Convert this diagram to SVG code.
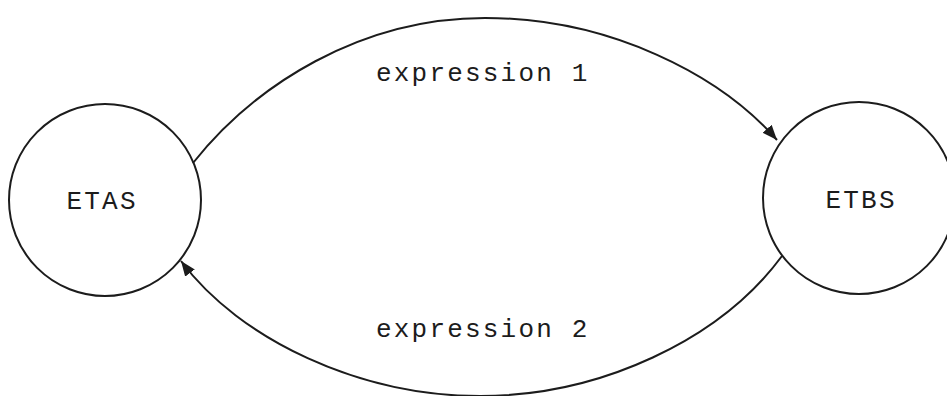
<svg xmlns="http://www.w3.org/2000/svg" width="947" height="396" viewBox="0 0 947 396">
<style>
.node{fill:none;stroke:#1c1c1c;stroke-width:2}
.edge{fill:none;stroke:#1c1c1c;stroke-width:2}
.lbl{font-family:"Liberation Mono","DejaVu Sans Mono",monospace;font-size:26px;letter-spacing:2.2px;fill:#1c1c1c}
</style>
<defs>
<marker id="arr" markerUnits="userSpaceOnUse" markerWidth="16" markerHeight="14" refX="15" refY="6" orient="auto">
<path d="M0,0 L15,6 L0,12 Z" fill="#1c1c1c"/>
</marker>
</defs>
<rect width="947" height="396" fill="#ffffff"/>
<g id="ETAS">
<circle class="node" cx="105" cy="200" r="96"/>
<text class="lbl" x="66.5" y="209">ETAS</text>
</g>
<g id="ETBS">
<circle class="node" cx="859" cy="198" r="96"/>
<text class="lbl" x="825.5" y="208">ETBS</text>
</g>
<g id="connectors">
<path class="edge" d="M193,163 C255,85 360,18 485,18 C610,18 720,75 777,140" marker-end="url(#arr)"/>
<text class="lbl" x="376" y="81">expression 1</text>
<path class="edge" d="M782,256 C720,340 600,396 480,396 C360,396 240,340 181,261" marker-end="url(#arr)"/>
<text class="lbl" x="376" y="337">expression 2</text>
</g>
</svg>
